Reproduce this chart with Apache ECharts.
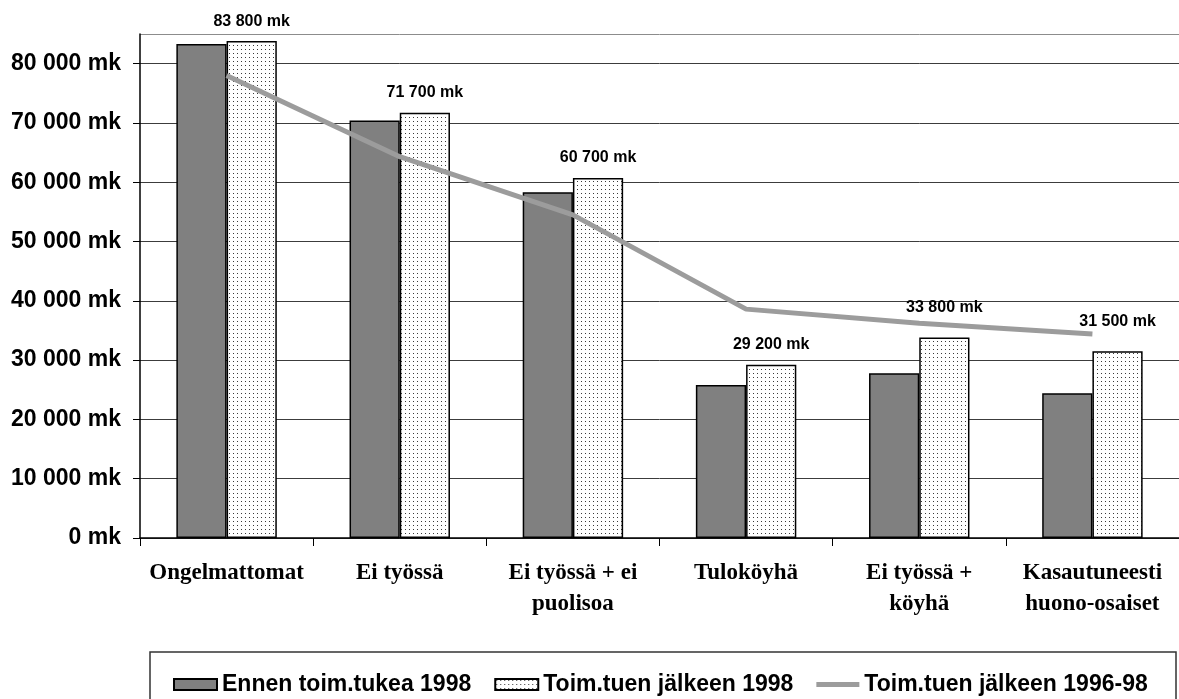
<!DOCTYPE html>
<html>
<head>
<meta charset="utf-8">
<script src="https://cdn.jsdelivr.net/npm/echarts@6/dist/echarts.min.js"></script>
<style>
html,body{margin:0;padding:0;background:#fff;}
#chart{width:1179px;height:699px;}
</style>
</head>
<body>
<div id="chart"></div>
<script>
const categories = ['Ongelmattomat', 'Ei työssä', 'Ei työssä + ei\npuolisoa', 'Tuloköyhä', 'Ei työssä +\nköyhä', 'Kasautuneesti\nhuono-osaiset'];
const seriesNames = ['Ennen toim.tukea 1998', 'Toim.tuen jälkeen 1998', 'Toim.tuen jälkeen 1996-98'];
const beforeValues = [83300, 70400, 58300, 25800, 27800, 24400];
const afterValues = [83800, 71700, 60700, 29200, 33800, 31500];
const trendValues = [78000, 64300, 54500, 38600, 36200, 34400];
const yMin = 0, yMax = 85000, yInterval = 10000;

function fmt(v) {
  return String(v).replace(/\B(?=(\d{3})+(?!\d))/g, ' ') + ' mk';
}

const pc = document.createElement('canvas');
pc.width = 4; pc.height = 4;
const px = pc.getContext('2d');
px.fillStyle = '#ffffff'; px.fillRect(0, 0, 4, 4);
px.fillStyle = '#3a3a3a'; px.fillRect(1, 1, 1, 1);
const dotPattern = { image: pc, repeat: 'repeat' };

const chart = echarts.init(document.getElementById('chart'), null, { renderer: 'canvas' });

const gridColors = [];
for (let v = yMin; v <= yMax; v += yInterval) gridColors.push('#3c3c3c');
gridColors.push('#8c8c8c');

chart.setOption({
  animation: false,
  backgroundColor: '#ffffff',
  graphic: [{
    type: 'rect', z: 0,
    shape: { x: 150, y: 652, width: 1026, height: 60 },
    style: { fill: '#ffffff', stroke: '#333333', lineWidth: 1.5 }
  }],
  grid: { left: 140, right: 0, top: 34, bottom: 161, containLabel: false },
  legend: {
    left: 173, top: 673, itemGap: 23, itemWidth: 43, itemHeight: 11, padding: 0, z: 5,
    textStyle: { fontFamily: 'Liberation Sans, Arial, sans-serif', fontWeight: 'bold', fontSize: 23, color: '#000' },
    data: [
      { name: seriesNames[0], icon: 'rect' },
      { name: seriesNames[1], icon: 'rect' },
      { name: seriesNames[2], icon: 'path://M0,0 L43,0 L43,5 L0,5 Z', itemStyle: { color: '#9c9c9c', borderWidth: 0 } }
    ]
  },
  xAxis: {
    type: 'category', data: categories,
    axisLine: { lineStyle: { color: '#000', width: 1.5 } },
    axisTick: { show: true, length: 8, lineStyle: { color: '#000' } },
    axisLabel: {
      interval: 0, margin: 20, color: '#000',
      fontFamily: 'Liberation Serif, Times New Roman, serif', fontWeight: 'bold', fontSize: 23, lineHeight: 31
    }
  },
  yAxis: {
    type: 'value', min: yMin, max: yMax, interval: yInterval,
    axisLine: { show: true, lineStyle: { color: '#000', width: 1.5 } },
    axisTick: { show: true, length: 7, lineStyle: { color: '#000' } },
    splitLine: { show: true, lineStyle: { color: gridColors, width: 1 } },
    axisLabel: {
      margin: 19, color: '#000', showMaxLabel: false,
      fontFamily: 'Liberation Sans, Arial, sans-serif', fontWeight: 'bold', fontSize: 23,
      formatter: function (v) { return v % yInterval === 0 ? fmt(v) : ''; }
    }
  },
  series: [
    {
      name: seriesNames[0], type: 'bar', data: beforeValues,
      barGap: '0%', barCategoryGap: '42%',
      itemStyle: { color: '#808080', borderColor: '#000', borderWidth: 1.5 },
      z: 2
    },
    {
      name: seriesNames[1], type: 'bar',
      data: afterValues.map(function (v, i) {
        return i >= 4 ? { value: v, label: { offset: [0, -10] } } : v;
      }),
      barGap: '0%', barCategoryGap: '42%',
      itemStyle: { color: dotPattern, borderColor: '#000', borderWidth: 1.5 },
      label: {
        show: true, position: 'top', distance: 12, color: '#000',
        fontFamily: 'Liberation Sans, Arial, sans-serif', fontWeight: 'bold', fontSize: 16,
        formatter: function (p) { return fmt(p.value); }
      },
      z: 2
    },
    {
      name: seriesNames[2], type: 'line', data: trendValues,
      symbol: 'none', showSymbol: false,
      lineStyle: { color: '#9c9c9c', width: 5 },
      itemStyle: { color: '#9c9c9c' },
      z: 3
    }
  ]
});
</script>
</body>
</html>
